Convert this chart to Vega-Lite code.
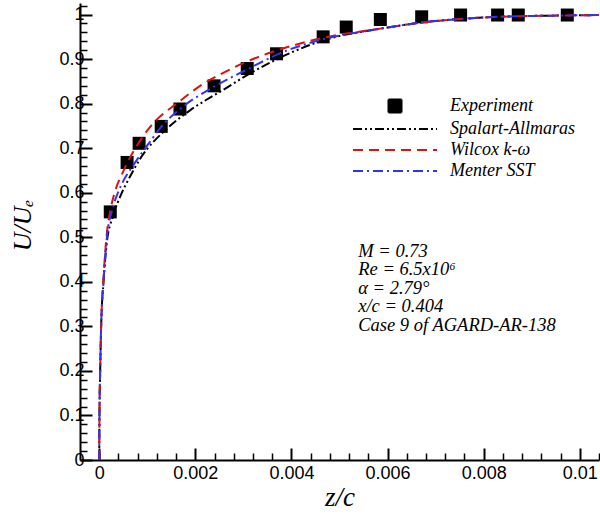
{
  "$schema": "https://vega.github.io/schema/vega-lite/v6.json",
  "width": 519,
  "height": 457,
  "autosize": {"type": "none"},
  "padding": {"left": 80, "top": 3, "right": 1, "bottom": 62},
  "background": "white",
  "config": {
    "view": {"stroke": null},
    "axis": {
      "grid": false,
      "domainColor": "black",
      "domainWidth": 2,
      "tickColor": "black",
      "labelFont": "Liberation Sans",
      "labelFontSize": 18,
      "labelColor": "black",
      "titleFont": "Liberation Serif",
      "titleFontStyle": "italic",
      "titleFontWeight": "normal",
      "titleColor": "black"
    }
  },
  "datasets": {
    "models": [
      {"series": "Spalart-Allmaras", "z": 0, "u": 0},
      {"series": "Spalart-Allmaras", "z": 0.000005, "u": 0.1},
      {"series": "Spalart-Allmaras", "z": 0.00002, "u": 0.2},
      {"series": "Spalart-Allmaras", "z": 0.00004, "u": 0.3},
      {"series": "Spalart-Allmaras", "z": 0.00009, "u": 0.4},
      {"series": "Spalart-Allmaras", "z": 0.00016, "u": 0.49},
      {"series": "Spalart-Allmaras", "z": 0.00029, "u": 0.548},
      {"series": "Spalart-Allmaras", "z": 0.00047, "u": 0.6},
      {"series": "Spalart-Allmaras", "z": 0.0006, "u": 0.628},
      {"series": "Spalart-Allmaras", "z": 0.00085, "u": 0.676},
      {"series": "Spalart-Allmaras", "z": 0.0014, "u": 0.743},
      {"series": "Spalart-Allmaras", "z": 0.00189, "u": 0.785},
      {"series": "Spalart-Allmaras", "z": 0.00258, "u": 0.831},
      {"series": "Spalart-Allmaras", "z": 0.00314, "u": 0.868},
      {"series": "Spalart-Allmaras", "z": 0.0037, "u": 0.9},
      {"series": "Spalart-Allmaras", "z": 0.0042, "u": 0.924},
      {"series": "Spalart-Allmaras", "z": 0.00466, "u": 0.942},
      {"series": "Spalart-Allmaras", "z": 0.005, "u": 0.952},
      {"series": "Spalart-Allmaras", "z": 0.0055, "u": 0.962},
      {"series": "Spalart-Allmaras", "z": 0.006, "u": 0.971},
      {"series": "Spalart-Allmaras", "z": 0.0067, "u": 0.982},
      {"series": "Spalart-Allmaras", "z": 0.0075, "u": 0.99},
      {"series": "Spalart-Allmaras", "z": 0.0083, "u": 0.995},
      {"series": "Spalart-Allmaras", "z": 0.009, "u": 0.997},
      {"series": "Spalart-Allmaras", "z": 0.0097, "u": 0.998},
      {"series": "Spalart-Allmaras", "z": 0.0104, "u": 0.999},
      {"series": "Wilcox k-ω", "z": 0, "u": 0},
      {"series": "Wilcox k-ω", "z": 0.000005, "u": 0.1},
      {"series": "Wilcox k-ω", "z": 0.00002, "u": 0.2},
      {"series": "Wilcox k-ω", "z": 0.00004, "u": 0.3},
      {"series": "Wilcox k-ω", "z": 0.00009, "u": 0.41},
      {"series": "Wilcox k-ω", "z": 0.00016, "u": 0.51},
      {"series": "Wilcox k-ω", "z": 0.00024, "u": 0.565},
      {"series": "Wilcox k-ω", "z": 0.00032, "u": 0.6},
      {"series": "Wilcox k-ω", "z": 0.0005, "u": 0.648},
      {"series": "Wilcox k-ω", "z": 0.00092, "u": 0.728},
      {"series": "Wilcox k-ω", "z": 0.00106, "u": 0.748},
      {"series": "Wilcox k-ω", "z": 0.00168, "u": 0.806},
      {"series": "Wilcox k-ω", "z": 0.0021, "u": 0.84},
      {"series": "Wilcox k-ω", "z": 0.00258, "u": 0.869},
      {"series": "Wilcox k-ω", "z": 0.003, "u": 0.891},
      {"series": "Wilcox k-ω", "z": 0.00349, "u": 0.912},
      {"series": "Wilcox k-ω", "z": 0.00411, "u": 0.933},
      {"series": "Wilcox k-ω", "z": 0.005, "u": 0.955},
      {"series": "Wilcox k-ω", "z": 0.0055, "u": 0.963},
      {"series": "Wilcox k-ω", "z": 0.006, "u": 0.971},
      {"series": "Wilcox k-ω", "z": 0.0067, "u": 0.982},
      {"series": "Wilcox k-ω", "z": 0.0075, "u": 0.99},
      {"series": "Wilcox k-ω", "z": 0.0083, "u": 0.995},
      {"series": "Wilcox k-ω", "z": 0.009, "u": 0.997},
      {"series": "Wilcox k-ω", "z": 0.0097, "u": 0.998},
      {"series": "Wilcox k-ω", "z": 0.0104, "u": 0.999},
      {"series": "Menter SST", "z": 0, "u": 0},
      {"series": "Menter SST", "z": 0.000005, "u": 0.1},
      {"series": "Menter SST", "z": 0.00002, "u": 0.2},
      {"series": "Menter SST", "z": 0.00004, "u": 0.3},
      {"series": "Menter SST", "z": 0.00009, "u": 0.4},
      {"series": "Menter SST", "z": 0.00016, "u": 0.5},
      {"series": "Menter SST", "z": 0.000265, "u": 0.56},
      {"series": "Menter SST", "z": 0.00039, "u": 0.6},
      {"series": "Menter SST", "z": 0.00048, "u": 0.622},
      {"series": "Menter SST", "z": 0.00071, "u": 0.662},
      {"series": "Menter SST", "z": 0.00106, "u": 0.715},
      {"series": "Menter SST", "z": 0.00129, "u": 0.748},
      {"series": "Menter SST", "z": 0.00168, "u": 0.788},
      {"series": "Menter SST", "z": 0.00239, "u": 0.838},
      {"series": "Menter SST", "z": 0.00308, "u": 0.877},
      {"series": "Menter SST", "z": 0.00376, "u": 0.913},
      {"series": "Menter SST", "z": 0.0045, "u": 0.94},
      {"series": "Menter SST", "z": 0.005, "u": 0.953},
      {"series": "Menter SST", "z": 0.0055, "u": 0.962},
      {"series": "Menter SST", "z": 0.006, "u": 0.971},
      {"series": "Menter SST", "z": 0.0067, "u": 0.982},
      {"series": "Menter SST", "z": 0.0075, "u": 0.99},
      {"series": "Menter SST", "z": 0.0083, "u": 0.995},
      {"series": "Menter SST", "z": 0.009, "u": 0.997},
      {"series": "Menter SST", "z": 0.0097, "u": 0.998},
      {"series": "Menter SST", "z": 0.0104, "u": 0.999}
    ],
    "experiment": [
      {"series": "Experiment", "z": 0.00023, "u": 0.557},
      {"series": "Experiment", "z": 0.00058, "u": 0.668},
      {"series": "Experiment", "z": 0.00083, "u": 0.711},
      {"series": "Experiment", "z": 0.00129, "u": 0.749},
      {"series": "Experiment", "z": 0.00168, "u": 0.788},
      {"series": "Experiment", "z": 0.00239, "u": 0.84},
      {"series": "Experiment", "z": 0.00308, "u": 0.879},
      {"series": "Experiment", "z": 0.00369, "u": 0.912},
      {"series": "Experiment", "z": 0.00466, "u": 0.95},
      {"series": "Experiment", "z": 0.00514, "u": 0.972},
      {"series": "Experiment", "z": 0.00585, "u": 0.989},
      {"series": "Experiment", "z": 0.00671, "u": 0.995},
      {"series": "Experiment", "z": 0.00752, "u": 0.999},
      {"series": "Experiment", "z": 0.00829, "u": 0.999},
      {"series": "Experiment", "z": 0.00872, "u": 0.999},
      {"series": "Experiment", "z": 0.00974, "u": 0.999}
    ]
  },
  "resolve": {"axis": {"x": "independent", "y": "independent"}},
  "layer": [
    {
      "data": {"name": "experiment"},
      "mark": {"type": "square", "filled": true, "size": 169, "opacity": 1},
      "encoding": {
        "x": {
          "field": "z", "type": "quantitative",
          "scale": {"domain": [-0.0004, 0.0104], "nice": false, "zero": false},
          "axis": {
            "orient": "bottom",
            "values": [0, 0.0004, 0.0008, 0.0012, 0.0016, 0.0024, 0.0028, 0.0032, 0.0036, 0.0044, 0.0048, 0.0052, 0.0056, 0.0064, 0.0068, 0.0072, 0.0076, 0.0084, 0.0088, 0.0092, 0.0096, 0.0104],
            "labels": false, "domain": false, "title": null,
            "tickSize": -7, "tickWidth": 1.5
          }
        },
        "y": {
          "field": "u", "type": "quantitative",
          "scale": {"domain": [0, 1.026], "nice": false, "zero": false},
          "axis": {
            "orient": "left",
            "values": [0.02, 0.04, 0.06, 0.08, 0.12, 0.14, 0.16, 0.18, 0.22, 0.24, 0.26, 0.28, 0.32, 0.34, 0.36, 0.38, 0.42, 0.44, 0.46, 0.48, 0.52, 0.54, 0.56, 0.58, 0.62, 0.64, 0.66, 0.68, 0.72, 0.74, 0.76, 0.78, 0.82, 0.84, 0.86, 0.88, 0.92, 0.94, 0.96, 0.98, 1.02],
            "labels": false, "domain": false, "title": null,
            "tickSize": -7, "tickWidth": 1.5
          }
        },
        "color": {
          "field": "series", "type": "nominal",
          "scale": {
            "domain": ["Experiment", "Spalart-Allmaras", "Wilcox k-ω", "Menter SST"],
            "range": ["black", "black", "#dd1111", "#3333ee"]
          }
        }
      }
    },
    {
      "data": {"name": "models"},
      "mark": {"type": "line", "strokeWidth": 2, "interpolate": "monotone", "clip": true},
      "encoding": {
        "x": {
          "field": "z", "type": "quantitative",
          "axis": {
            "orient": "bottom",
            "values": [0, 0.002, 0.004, 0.006, 0.008, 0.01],
            "format": "~g",
            "tickSize": -12, "tickWidth": 2,
            "labelPadding": 16,
            "title": "z/c", "titleFontSize": 27, "titleBaseline": "alphabetic", "titleY": 45
          }
        },
        "y": {
          "field": "u", "type": "quantitative",
          "axis": {
            "orient": "left",
            "values": [0, 0.1, 0.2, 0.3, 0.4, 0.5, 0.6, 0.7, 0.8, 0.9, 1],
            "format": "~g",
            "tickSize": -12, "tickWidth": 2,
            "labelPadding": 8,
            "title": "U/Uₑ", "titleFontSize": 26, "titleBaseline": "alphabetic", "titleX": -50, "titleY": 222
          }
        },
        "color": {
          "field": "series", "type": "nominal",
          "legend": {
            "orient": "none", "legendX": 306, "legendY": 94,
            "title": null,
            "padding": 0,
            "symbolType": "M-21,0H21",
            "symbolSize": 16,
            "symbolStrokeWidth": 2,
            "labelFont": "Liberation Serif",
            "labelFontStyle": "italic",
            "labelFontSize": 18,
            "labelColor": "black",
            "labelOffset": 46,
            "labelLimit": 300,
            "rowPadding": 3,
            "encode": {
              "symbols": {
                "update": {
                  "shape": {"signal": "datum.value === 'Experiment' ? 'square' : 'M-21,0H21'"},
                  "size": {"signal": "datum.value === 'Experiment' ? 169 : 16"},
                  "fill": {"signal": "datum.value === 'Experiment' ? 'black' : 'transparent'"}
                }
              }
            }
          }
        },
        "strokeDash": {
          "field": "series", "type": "nominal",
          "scale": {
            "domain": ["Experiment", "Spalart-Allmaras", "Wilcox k-ω", "Menter SST"],
            "range": [[1, 0], [9, 3, 2, 3, 2, 3], [10, 6], [10, 4, 2, 4]]
          }
        }
      }
    },
    {
      "data": {"values": [{"note": "M = 0.73"}]},
      "mark": {
        "type": "text", "align": "left", "baseline": "alphabetic",
        "font": "Liberation Serif", "fontStyle": "italic", "fontSize": 18.5,
        "lineHeight": 18.5, "color": "black",
        "text": ["M = 0.73", "Re = 6.5x10⁶", "α = 2.79°", "x/c = 0.404", "Case 9 of AGARD-AR-138"]
      },
      "encoding": {
        "x": {"datum": 0.00539, "type": "quantitative", "axis": null},
        "y": {"datum": 0.4566, "type": "quantitative", "axis": null}
      }
    }
  ]
}
